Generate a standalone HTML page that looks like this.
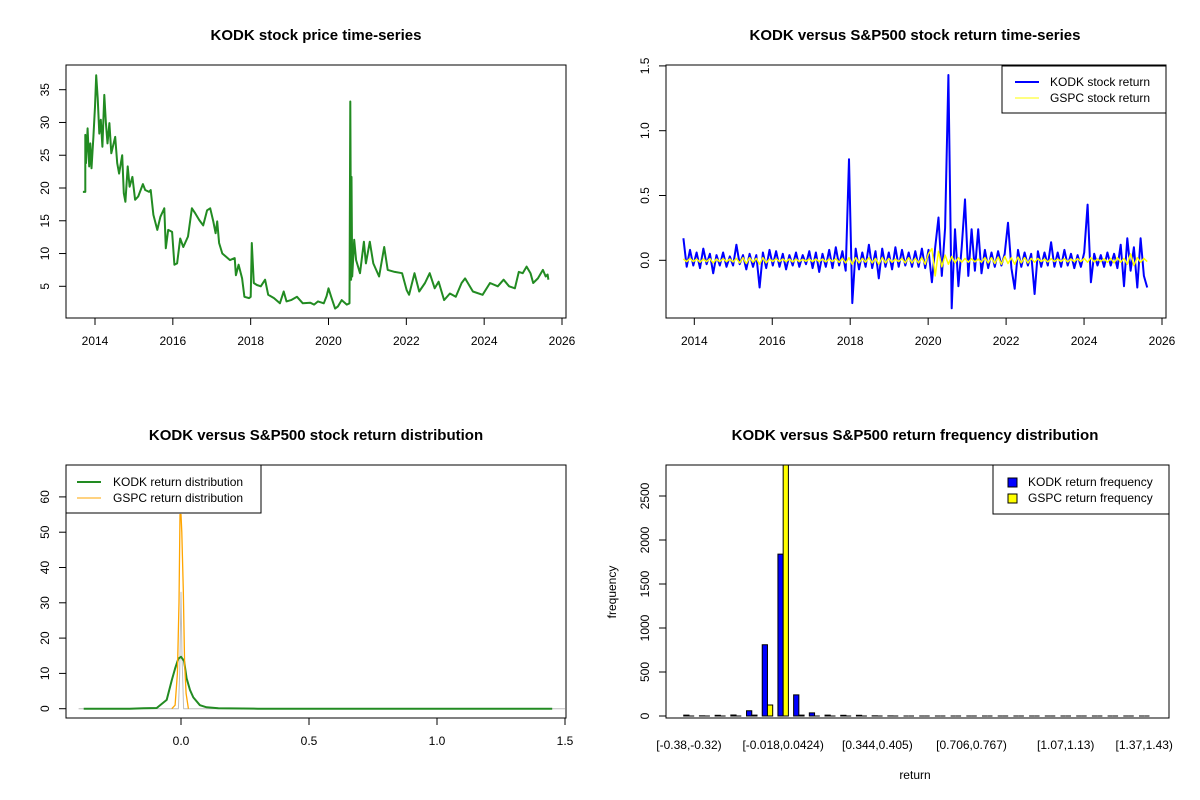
<!DOCTYPE html>
<html><head><meta charset="utf-8"><style>
html,body{margin:0;padding:0;background:#fff;}
svg{display:block;font-family:"Liberation Sans",Arial,sans-serif;}
</style></head><body>
<svg id="chart" width="1200" height="800" viewBox="0 0 1200 800">
<rect width="1200" height="800" fill="#fff"/>
</svg>
<script>
// ---------- Panel 1 data: KODK price ----------
const priceYears=[2013.69,2013.75,2013.75,2013.77,2013.81,2013.85,2013.88,2013.91,2013.96,2014.00,2014.03,2014.07,2014.11,2014.15,2014.19,2014.24,2014.28,2014.32,2014.37,2014.42,2014.52,2014.57,2014.62,2014.70,2014.74,2014.78,2014.84,2014.89,2014.96,2015.03,2015.11,2015.23,2015.29,2015.39,2015.43,2015.50,2015.60,2015.68,2015.78,2015.82,2015.88,2015.98,2016.04,2016.11,2016.19,2016.27,2016.39,2016.49,2016.58,2016.68,2016.78,2016.88,2016.96,2017.04,2017.10,2017.14,2017.19,2017.27,2017.37,2017.47,2017.59,2017.62,2017.69,2017.78,2017.84,2017.96,2018.00,2018.03,2018.08,2018.16,2018.26,2018.37,2018.45,2018.60,2018.75,2018.85,2018.92,2019.04,2019.19,2019.34,2019.53,2019.63,2019.73,2019.88,2019.95,2020.00,2020.07,2020.17,2020.24,2020.34,2020.47,2020.54,2020.56,2020.58,2020.59,2020.61,2020.66,2020.71,2020.81,2020.91,2020.96,2021.06,2021.15,2021.30,2021.43,2021.52,2021.70,2021.89,2022.01,2022.07,2022.21,2022.33,2022.48,2022.60,2022.73,2022.83,2022.97,2023.12,2023.27,2023.42,2023.51,2023.71,2023.96,2024.15,2024.35,2024.50,2024.64,2024.79,2024.89,2024.99,2025.09,2025.19,2025.26,2025.38,2025.51,2025.58,2025.63,2025.65];
const priceValues=[19.4,19.4,28.1,23.8,29.1,23.3,26.8,23,27.8,32.4,37.2,33.7,28.3,30.4,26.3,34.2,29.9,26.8,29.9,25.3,27.8,23.8,22.2,25,19.2,17.9,23.3,20.2,21.7,18.2,18.7,20.6,19.7,19.4,19.7,15.9,13.6,15.6,16.9,10.8,13.6,13.3,8.3,8.5,12.3,11,12.6,16.9,16.1,15.1,14.3,16.6,16.9,14.9,13.1,14.9,11.6,10,9.5,9,9.3,6.7,8.3,6.2,3.4,3.2,3.4,11.6,5.5,5.2,5,6,3.7,3.2,2.4,4.2,2.7,2.9,3.4,2.4,2.5,2.2,2.7,2.4,3.5,4.7,3.4,1.6,1.9,2.9,2.2,2.4,33.2,6,21.7,6.5,12.1,9,7,11.8,8.5,11.8,8.5,6.5,11,7.5,7.2,7,4.4,3.7,7,4.2,5.5,7,4.7,5.7,2.9,3.9,3.4,5.5,6.2,4.2,3.7,5.5,5,6,5,4.7,7.2,7,8,7,5.5,6.2,7.5,6.5,6.8,6];
const p1XTicks=[2014,2016,2018,2020,2022,2024,2026];
const p1YTicks=[5,10,15,20,25,30,35];

// ---------- Panel 2 data: returns ----------
const retStart=2013.72, retStep=0.085;
const kodkReturns=[0.17,-0.05,0.08,-0.04,0.06,-0.06,0.09,-0.03,0.05,-0.10,
0.04,-0.04,0.06,-0.05,0.03,-0.04,0.12,-0.03,0.04,-0.07,
0.05,-0.05,0.04,-0.21,0.06,-0.06,0.08,-0.04,0.07,-0.05,
0.05,-0.07,0.04,-0.04,0.06,-0.05,0.04,-0.03,0.07,-0.06,
0.06,-0.09,0.05,-0.05,0.08,-0.06,0.10,-0.04,0.07,-0.08,
0.78,-0.33,0.09,-0.07,0.06,-0.05,0.12,-0.06,0.07,-0.14,
0.09,-0.05,0.06,-0.07,0.10,-0.05,0.08,-0.04,0.06,-0.05,
0.07,-0.05,0.09,-0.06,0.08,-0.17,0.10,0.33,-0.12,0.25,
1.43,-0.37,0.24,-0.20,0.10,0.47,-0.12,0.24,-0.08,0.24,
-0.10,0.08,-0.06,0.06,-0.05,0.07,-0.04,0.05,0.29,-0.06,
-0.22,0.08,-0.05,0.06,-0.04,0.05,-0.26,0.07,-0.05,0.06,
-0.04,0.14,-0.05,0.06,-0.05,0.08,-0.04,0.05,-0.06,0.04,
-0.05,0.06,0.43,-0.17,0.05,-0.04,0.04,-0.05,0.06,-0.04,
0.05,-0.06,0.12,-0.20,0.17,-0.08,0.10,-0.21,0.17,-0.12,-0.21];
const gspcReturns=[0.01,-0.01,0.015,-0.01,0.01,-0.015,0.01,-0.01,0.012,-0.02,
0.01,-0.01,0.012,-0.01,0.01,-0.012,0.015,-0.02,0.02,-0.025,
0.02,-0.015,0.015,-0.03,0.02,-0.02,0.01,-0.01,0.012,-0.01,
0.01,-0.01,0.01,-0.012,0.01,-0.01,0.008,-0.008,0.01,-0.01,
0.01,-0.01,0.01,-0.012,0.01,-0.01,0.012,-0.015,0.015,-0.02,
0.02,-0.03,0.02,-0.02,0.015,-0.015,0.02,-0.02,0.015,-0.03,
0.02,-0.02,0.015,-0.015,0.01,-0.01,0.015,-0.02,0.02,-0.02,
0.015,-0.02,0.02,-0.03,0.05,0.09,-0.12,0.07,-0.05,0.04,
-0.03,0.03,-0.02,0.02,-0.015,0.015,-0.015,0.012,-0.012,0.01,
-0.015,0.02,-0.02,0.02,-0.025,0.025,-0.03,0.03,-0.025,0.02,
-0.03,0.025,-0.02,0.02,-0.02,0.015,-0.015,0.015,-0.01,0.01,
-0.012,0.012,-0.01,0.01,-0.01,0.012,-0.012,0.01,-0.01,0.012,
-0.01,0.015,-0.015,0.02,-0.012,0.01,-0.01,0.012,-0.015,0.015,
-0.02,0.02,-0.015,0.015,-0.03,0.05,-0.04,0.02,-0.015,0.015,-0.01];
const p2XTicks=[2014,2016,2018,2020,2022,2024,2026];
const p2YTicks=[0,0.5,1,1.5];
const p2YLabels=["0.0","0.5","1.0","1.5"];

// ---------- Panel 3 data: densities ----------
const kodkDensX=[-0.38,-0.2,-0.147,-0.095,-0.056,-0.036,-0.023,-0.01,0,0.012,0.022,0.035,0.048,0.074,0.1,0.146,0.3,1.45];
const kodkDensY=[0,0,0.1,0.2,2.5,8.1,11.4,14.2,14.7,13.5,8.6,5.3,3.2,1,0.4,0.1,0,0];
const gspcDensX=[-0.036,-0.023,-0.014,-0.008,-0.004,0,0.003,0.009,0.014,0.02,0.029];
const gspcDensY=[0,1,10,30,55,55,50,33.6,12.8,4.3,0];
const gspcNormX=[-0.4,-0.01,-0.005,0,0.004,0.01,1.5];
const gspcNormY=[0,0,10,33,15,0,0];
const p3XTicks=[0,0.5,1,1.5];
const p3XLabels=["0.0","0.5","1.0","1.5"];
const p3YTicks=[0,10,20,30,40,50,60];

// ---------- Panel 4 data: histogram bins ----------
const binLabels=["[-0.38,-0.32)","","","","","","[-0.018,0.0424)","","","","","","[0.344,0.405)","","","","","","[0.706,0.767)","","","","","","[1.07,1.13)","","","","","[1.37,1.43)"];
const kodkFreq=[10,2,8,12,60,810,1840,240,35,10,8,8,2,1,0,0,0,0,0,0,0,0,0,0,0,0,0,0,0,0];
const gspcFreq=[0,0,0,0,10,125,2870,10,0,0,0,0,0,0,0,0,0,0,0,0,0,0,0,0,0,0,0,0,0,0];
const p4YTicks=[0,500,1000,1500,2000,2500];

// ---------- helpers ----------
const NS="http://www.w3.org/2000/svg";
const svg=document.getElementById('chart');
function mk(tag,attrs,parent,txt){const e=document.createElementNS(NS,tag);for(const k in attrs)e.setAttribute(k,attrs[k]);if(txt!==undefined)e.textContent=txt;(parent||svg).appendChild(e);return e;}
function lin(d0,d1,r0,r1){return v=>r0+(v-d0)*(r1-r0)/(d1-d0);}
function frame(g,x0,y0,x1,y1){const r=mk('rect',{x:x0,y:y0,width:x1-x0,height:y1-y0,fill:'none',stroke:'#000','stroke-width':1},g);}
function xAxis(g,ticks,labels,sx,yb,name){const a=mk('g',{},g);
 mk('line',{x1:sx(ticks[0]),x2:sx(ticks[ticks.length-1]),y1:yb,y2:yb,stroke:'#000'},a);
 ticks.forEach((t,i)=>{const x=sx(t);mk('line',{x1:x,x2:x,y1:yb,y2:yb+7,stroke:'#000'},a);
  const tx=mk('text',{x:x,y:yb+27,'font-size':12,'text-anchor':'middle',fill:'#000'},a,labels[i]);});}
function yAxis(g,ticks,labels,sy,xl,name){const a=mk('g',{},g);
 mk('line',{x1:xl,x2:xl,y1:sy(ticks[0]),y2:sy(ticks[ticks.length-1]),stroke:'#000'},a);
 ticks.forEach((t,i)=>{const y=sy(t);mk('line',{x1:xl,x2:xl-7,y1:y,y2:y,stroke:'#000'},a);
  const tx=mk('text',{x:xl-17,y:y,'font-size':12,'text-anchor':'middle',fill:'#000',transform:`rotate(-90 ${xl-17} ${y})`},a,labels[i]);});}
function title(g,x,y,t){const e=mk('text',{x:x,y:y,'font-size':15,'font-weight':'bold','text-anchor':'middle',fill:'#000'},g,t);}
function clip(id,x0,y0,x1,y1){const c=mk('clipPath',{id:id});mk('rect',{x:x0,y:y0,width:x1-x0,height:y1-y0},c);}
function poly(g,xs,ys,sx,sy,color,w,name,cp){const pts=xs.map((x,i)=>sx(x).toFixed(1)+','+sy(ys[i]).toFixed(1)).join(' ');
 const p=mk('polyline',{points:pts,fill:'none',stroke:color,'stroke-width':w,'stroke-linejoin':'round','clip-path':cp?`url(#${cp})`:''},g);}
function barPath(x,y0,y1,w){return `M${x},${y0}L${x+w},${y0}L${x+w},${y1}L${x},${y1}Z`;}

// ---------- Panel 1 ----------
{const g=mk('g',{});
 const X0=66,X1=566,Y0=65,Y1=318;
 const sx=lin(2014,2026,95,562), sy=lin(5,35,286.3,89.7);
 clip('c1',X0,Y0,X1,Y1);
 title(g,316,40,'KODK stock price time-series');
 poly(g,priceYears,priceValues,sx,sy,'#228B22',2,'kodk-price-line','c1');
 frame(g,X0,Y0,X1,Y1);
 xAxis(g,p1XTicks,p1XTicks.map(String),sx,Y1,'x-axis');
 yAxis(g,p1YTicks,p1YTicks.map(String),sy,X0,'y-axis');}

// ---------- Panel 2 ----------
{const g=mk('g',{});
 const X0=666,X1=1166,Y0=65,Y1=318;
 const sx=lin(2014,2026,694.3,1162), sy=lin(0,1,260.3,130.7);
 clip('c2',X0,Y0,X1,Y1);
 title(g,915,40,'KODK versus S&P500 stock return time-series');
 const xs=kodkReturns.map((v,i)=>retStart+i*retStep);
 poly(g,xs,kodkReturns,sx,sy,'#0000FF',2,'kodk-return-line','c2');
 poly(g,xs,gspcReturns,sx,sy,'#FFFF00',1.5,'gspc-return-line','c2');
 frame(g,X0,Y0,X1,Y1);
 xAxis(g,p2XTicks,p2XTicks.map(String),sx,Y1,'x-axis');
 yAxis(g,p2YTicks,p2YLabels,sy,X0,'y-axis');
 const L=mk('g',{},g);
 mk('rect',{x:1002,y:66,width:164,height:47,fill:'#fff',stroke:'#000'},L);
 mk('line',{x1:1015,x2:1039,y1:82,y2:82,stroke:'#0000FF','stroke-width':2},L);
 mk('text',{x:1050,y:86,'font-size':12},L,'KODK stock return');
 mk('line',{x1:1015,x2:1039,y1:98,y2:98,stroke:'#FFFF00','stroke-width':1},L);
 mk('text',{x:1050,y:102,'font-size':12},L,'GSPC stock return');}

// ---------- Panel 3 ----------
{const g=mk('g',{});
 const X0=66,X1=566,Y0=465,Y1=718;
 const sx=lin(0,1.5,181,565), sy=lin(0,60,708.7,496.9);
 clip('c3',X0,Y0,X1,Y1);
 title(g,316,440,'KODK versus S&P500 stock return distribution');
 poly(g,gspcNormX,gspcNormY,sx,sy,'#BEBEBE',1,'gspc-normal-line','c3');
 poly(g,kodkDensX,kodkDensY,sx,sy,'#228B22',2,'kodk-density-line','c3');
 poly(g,gspcDensX,gspcDensY,sx,sy,'#FFA500',1.3,'gspc-density-line','c3');
 frame(g,X0,Y0,X1,Y1);
 xAxis(g,p3XTicks,p3XLabels,sx,Y1,'x-axis');
 yAxis(g,p3YTicks,p3YTicks.map(String),sy,X0,'y-axis');
 const L=mk('g',{},g);
 mk('rect',{x:66,y:465,width:195,height:48,fill:'#fff',stroke:'#000'},L);
 mk('line',{x1:77,x2:101,y1:482,y2:482,stroke:'#228B22','stroke-width':2},L);
 mk('text',{x:113,y:486,'font-size':12},L,'KODK return distribution');
 mk('line',{x1:77,x2:101,y1:498,y2:498,stroke:'#FFA500','stroke-width':1},L);
 mk('text',{x:113,y:502,'font-size':12},L,'GSPC return distribution');}

// ---------- Panel 4 ----------
{const g=mk('g',{});
 const X0=666,X1=1169,Y0=465,Y1=718;
 const U=5.233, u0=678.5;
 const ux=u=>u0+u*U;
 const sy=lin(0,2500,716,496);
 clip('c4',X0,Y0,X1,Y1);
 title(g,915,440,'KODK versus S&P500 return frequency distribution');
 const bars=mk('g',{'clip-path':'url(#c4)'},g);
 kodkFreq.forEach((v,i)=>{
  const xa=ux(3*i+1), xb=ux(3*i+2);
  const b=mk('path',{d:barPath(xa,sy(0),sy(v),U),fill:'#0000FF',stroke:'#000','stroke-width':1},bars);
  
  const w=gspcFreq[i];
  const c=mk('path',{d:barPath(xb,sy(0),sy(w),U),fill:'#FFFF00',stroke:'#000','stroke-width':1},bars);
  
 });
 frame(g,X0,Y0,X1,Y1);
 const xa=mk('g',{},g);
 binLabels.forEach((t,i)=>{if(!t)return;mk('text',{x:ux(3*i+2),y:749,'font-size':12,'text-anchor':'middle'},xa,t);});
 yAxis(g,p4YTicks,p4YTicks.map(String),sy,X0,'y-axis');
 const yl=mk('text',{x:616,y:592,'font-size':12,'text-anchor':'middle',transform:'rotate(-90 616 592)'},g,'frequency');
 
 const xl=mk('text',{x:915,y:779,'font-size':12,'text-anchor':'middle'},g,'return');
 
 const L=mk('g',{},g);
 mk('rect',{x:993,y:465,width:176,height:49,fill:'#fff',stroke:'#000'},L);
 mk('rect',{x:1008,y:478,width:9,height:9,fill:'#0000FF',stroke:'#000'},L);
 mk('text',{x:1028,y:486,'font-size':12},L,'KODK return frequency');
 mk('rect',{x:1008,y:494,width:9,height:9,fill:'#FFFF00',stroke:'#000'},L);
 mk('text',{x:1028,y:502,'font-size':12},L,'GSPC return frequency');}
</script>
</body></html>
